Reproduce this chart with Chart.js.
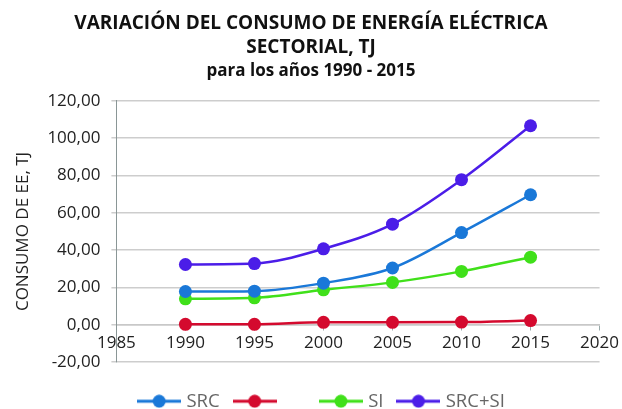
<!DOCTYPE html>
<html>
<head>
<meta charset="utf-8">
<script src="https://cdn.jsdelivr.net/npm/chart.js@4/dist/chart.umd.min.js"></script>
<style>
  html, body { margin: 0; padding: 0; background: #fff; }
  #wrap { width: 622px; height: 409px; }
</style>
</head>
<body>
<div id="wrap"><canvas id="grafico" width="622" height="409"></canvas></div>
<script>
// datos
const anios = [1990, 1995, 2000, 2005, 2010, 2015];
const src = [17.8, 18.0, 22.3, 30.4, 49.4, 69.7];
const rojo = [0.2, 0.2, 1.3, 1.3, 1.4, 2.2];
const si = [13.9, 14.4, 18.7, 22.7, 28.6, 36.2];
const srcSi = [32.3, 32.8, 40.7, 53.9, 77.8, 106.7];

const etiquetas = ['SRC', '     ', 'SI', 'SRC+SI'];
const colores = ['#1a78d8', '#d40a2e', '#40e01a', '#4b1de8'];
const titulo = ['VARIACIÓN DEL CONSUMO DE ENERGÍA ELÉCTRICA', 'SECTORIAL, TJ'];
const subtitulo = 'para los años 1990 - 2015';

// icono de leyenda: línea con punto
function iconoLeyenda(color) {
    const c = document.createElement('canvas');
    c.width = 44; c.height = 14;
    const g = c.getContext('2d');
    g.strokeStyle = color;
    g.lineWidth = 3;
    g.beginPath(); g.moveTo(0, 7); g.lineTo(44, 7); g.stroke();
    g.fillStyle = color;
    g.beginPath(); g.arc(22, 7, 6.5, 0, Math.PI * 2); g.fill();
    return c;
}

// la leyenda ocupa solo el espacio bajo el área del gráfico, algo desplazada a la derecha
const ajusteLeyenda = {
    id: 'ajusteLeyenda',
    afterInit(chart) {
        const fitOrig = chart.legend.fit;
        chart.legend.fit = function () {
            fitOrig.call(this);
            this.height = 47;
        };
    },
    afterLayout(chart) {
        chart.legend.left += 12;
        chart.legend.right += 12;
    }
};

const series = [src, rojo, si, srcSi];
const datasets = series.map((vals, i) => ({
    label: etiquetas[i],
    data: vals.map((v, j) => ({ x: anios[j], y: v })),
    borderColor: colores[i],
    backgroundColor: colores[i],
    borderWidth: 2.5,
    pointRadius: 6.5,
    pointHoverRadius: 6.5,
    pointBorderWidth: 0,
    pointStyle: 'circle',
    cubicInterpolationMode: 'monotone',
    fill: false
}));

new Chart(document.getElementById('grafico').getContext('2d'), {
    type: 'line',
    data: { datasets },
    plugins: [ajusteLeyenda],
    options: {
        responsive: false,
        animation: false,
        layout: { padding: { left: 10, right: 10, top: 0, bottom: 0 } },
        plugins: {
            title: {
                display: true,
                text: titulo,
                color: '#111',
                font: { family: 'Open Sans', size: 19, weight: 'bold', lineHeight: 1.25 },
                padding: { top: 12, bottom: 0 }
            },
            subtitle: {
                display: true,
                text: subtitulo,
                color: '#111',
                font: { family: 'Open Sans', size: 17, weight: 'bold', lineHeight: 1.35 },
                padding: { top: 0, bottom: 18.5 }
            },
            legend: {
                position: 'bottom',
                title: { display: true, text: '', font: { size: 10, lineHeight: 1 }, padding: { top: 3, bottom: 0 } },
                labels: {
                    usePointStyle: true,
                    pointStyleWidth: 36,
                    color: '#222',
                    font: { family: 'Open Sans', size: 18.5 },
                    padding: 17,
                    generateLabels: (chart) => chart.data.datasets.map((ds, i) => ({
                        text: ds.label,
                        pointStyle: iconoLeyenda(ds.borderColor),
                        fillStyle: ds.borderColor,
                        strokeStyle: ds.borderColor,
                        lineWidth: 0,
                        datasetIndex: i,
                        hidden: false
                    }))
                }
            },
            tooltip: { enabled: false }
        },
        scales: {
            x: {
                type: 'linear',
                min: 1985,
                max: 2020,
                position: { y: 0 },
                ticks: { stepSize: 5, padding: 3, color: '#222', font: { family: 'Open Sans', size: 17 }, callback: v => String(v) },
                grid: { drawOnChartArea: false, drawTicks: true, tickLength: 5, color: '#9aa' },
                border: { display: true, color: '#c8c8c8', width: 1.5 }
            },
            y: {
                min: -20,
                max: 120,
                title: {
                    display: true,
                    text: 'CONSUMO DE EE, TJ',
                    color: '#222',
                    font: { family: 'Open Sans', size: 17 },
                    padding: { top: 3, bottom: 3 }
                },
                ticks: {
                    stepSize: 20,
                    color: '#222',
                    font: { family: 'Open Sans', size: 17 },
                    padding: 11,
                    callback: v => v.toFixed(2).replace('.', ',')
                },
                grid: { color: '#cdcdcd', lineWidth: 1.5, tickLength: 5 },
                border: { display: true, color: '#8a9696', width: 1 }
            }
        }
    }
});
</script>
</body>
</html>
